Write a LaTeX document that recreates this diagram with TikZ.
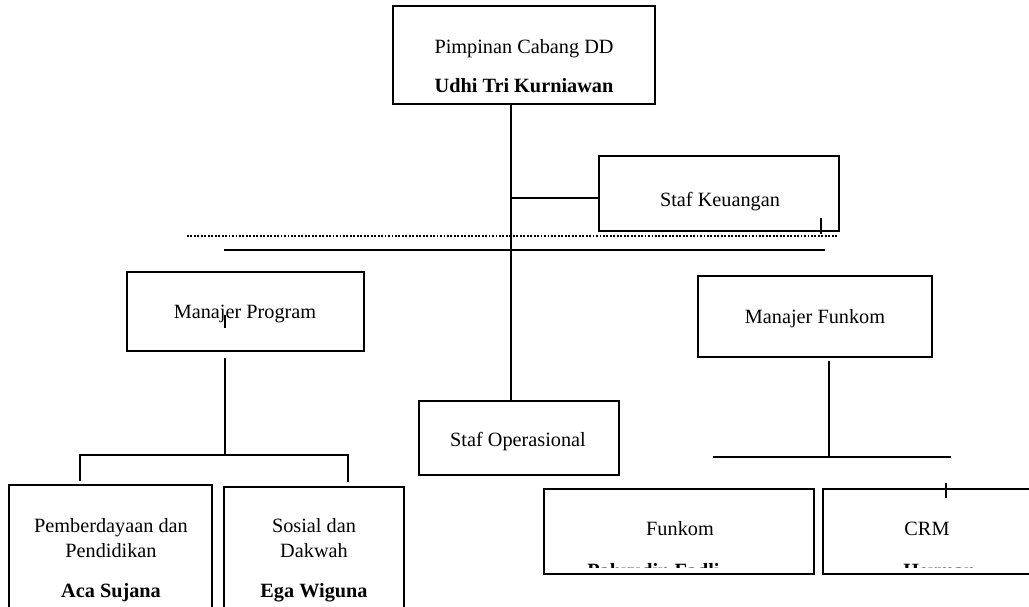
\documentclass[tikz,border=0pt]{standalone}
\usepackage{fontspec}
\setmainfont{Liberation Serif}
\usepackage{tikz}
\usetikzlibrary{calc}
\tikzstyle{kotak}=[rectangle, draw=black, line width=1.5pt, inner sep=0pt]
\tikzstyle{tulisan}=[anchor=base, inner sep=0pt, font=\fontsize{15.2pt}{18pt}\selectfont]
\tikzstyle{nama}=[tulisan, font=\fontsize{15.2pt}{18pt}\selectfont\bfseries]
\tikzstyle{garis}=[draw=black, line width=1.5pt, line join=miter]

\begin{document}
\begin{tikzpicture}[x=0.75pt, y=-0.75pt]
		\useasboundingbox (0,0) rectangle (1029,607);
		\clip (0,0) rectangle (1029,607);
		\node[kotak, minimum width=262*0.75pt, minimum height=98*0.75pt](pimpinan) at (524,55) {};
		\node[kotak, minimum width=240*0.75pt, minimum height=75*0.75pt](keuangan) at (719,193.5) {};
		\node[kotak, minimum width=237*0.75pt, minimum height=79*0.75pt](mprogram) at (245.5,311.5) {};
		\node[kotak, minimum width=234*0.75pt, minimum height=81*0.75pt](mfunkom) at (815,316.5) {};
		\node[kotak, minimum width=200*0.75pt, minimum height=74*0.75pt](operasional) at (519,438) {};
		\node[kotak, minimum width=203*0.75pt, minimum height=155*0.75pt](pemberdayaan) at (110.5,562.5) {};
		\node[kotak, minimum width=180*0.75pt, minimum height=153*0.75pt](sosial) at (314,563.5) {};
		\node[kotak, minimum width=270*0.75pt, minimum height=85*0.75pt](funkom) at (679,531.5) {};
		\node[kotak, minimum width=222*0.75pt, minimum height=85*0.75pt](crm) at (934,531.5) {};

		\node[tulisan](tPimpinan) at (524,53) {Pimpinan Cabang DD};
		\node[nama](nPimpinan) at (524,92) {Udhi Tri Kurniawan};
		\node[tulisan](tKeuangan) at (720,206) {Staf Keuangan};
		\node[tulisan](tMProgram) at (245,318) {Manajer Program};
		\node[tulisan](tMFunkom) at (815,323) {Manajer Funkom};
		\node[tulisan](tOperasional) at (518,446) {Staf Operasional};
		\node[tulisan](tPemberdayaan) at (111,532) {Pemberdayaan dan};
		\node[tulisan](tPendidikan) at (111,557) {Pendidikan};
		\node[nama](nPemberdayaan) at (111,597) {Aca Sujana};
		\node[tulisan](tSosial) at (314,532) {Sosial dan};
		\node[tulisan](tDakwah) at (314,557) {Dakwah};
		\node[nama](nSosial) at (314,597) {Ega Wiguna};
		\node[tulisan](tFunkom) at (680,535) {Funkom};
		\node[tulisan](tCRM) at (927,535) {CRM};
		\begin{scope}
			\clip (funkom.north west) rectangle ([yshift=6pt]funkom.south east);
			\node[nama, anchor=base west](nFunkom) at (587,577) {Pahrudin Fadli};
		\end{scope}
		\begin{scope}
			\clip (crm.north west) rectangle ([yshift=6pt]crm.south east);
			\node[nama, anchor=base west](nCRM) at (903,577) {Herman};
		\end{scope}

		\coordinate (tengah) at (511,0);
		\coordinate (tickK) at (821,218);
		\coordinate (titikA) at (187,236);
		\coordinate (titikB) at (838,236);
		\coordinate (garisA) at (224,250);
		\coordinate (garisB) at (825,250);
		\coordinate (tickP) at (225,315);
		\coordinate (cabangP) at (225,455);
		\coordinate (kiriP) at (80,455);
		\coordinate (kananP) at (348,455);
		\coordinate (cabangF) at (829,457);
		\coordinate (kiriF) at (713,457);
		\coordinate (kananF) at (951,457);
		\coordinate (tickF) at (946,483);
		\path[garis]
			(pimpinan.south -| tengah) -- (operasional.north -| tengah)
			([yshift=-3.4pt]keuangan.west) -- ([yshift=-3.4pt]keuangan.west -| tengah)
			(tickK) -- ([yshift=-1.5pt]tickK |- keuangan.south)
			(garisA) -- (garisB)
			(tickP) -- ++(0,13)
			([yshift=-4.5pt]mprogram.south -| cabangP) -- (cabangP)
			([yshift=2.2pt]kiriP |- pemberdayaan.north) -- (kiriP) -- (kananP) -- ([yshift=3pt]kananP |- sosial.north)
			([yshift=-2.5pt]mfunkom.south -| cabangF) -- (cabangF)
			(kiriF) -- (kananF)
			(tickF) -- ++(0,15);
		\draw[line width=1.4pt, dash pattern=on 1.4pt off 1.2pt] (titikA) -- (titikB);
	\end{tikzpicture}
\end{document}
